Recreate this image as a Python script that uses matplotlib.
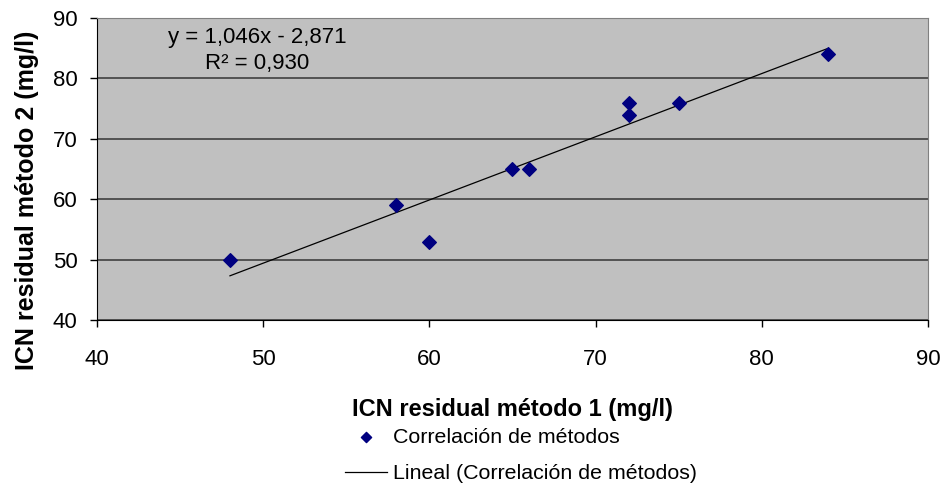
import numpy as np
import matplotlib.pyplot as plt

plt.rcParams['font.family'] = ['Liberation Sans', 'DejaVu Sans']

metodo1 = [48, 58, 60, 65, 66, 72, 72, 75, 84]
metodo2 = [50, 59, 53, 65, 65, 76, 74, 76, 84]
pendiente = 1.046
intercepto = -2.871
ecuacion = "y = 1,046x - 2,871"
r2_texto = "R² = 0,930"

fig = plt.figure(figsize=(9.42, 4.88), dpi=100)
ax = fig.add_axes([0.103, 0.344, 0.882, 0.619])
ax.set_facecolor('#c0c0c0')

ax.scatter(metodo1, metodo2, marker='D', s=48, color='#000080', zorder=3,
           label='Correlación de métodos')
xs = np.array([min(metodo1), max(metodo1)])
ax.plot(xs, pendiente * xs + intercepto, color='black', lw=0.9, zorder=2,
        label='Lineal (Correlación de métodos)')

ax.set_xlim(40, 90)
ax.set_ylim(40, 90)
ax.set_xticks(range(40, 91, 10))
ax.set_yticks(range(40, 91, 10))
ax.yaxis.grid(True, color='#404040', lw=1.2)
ax.set_axisbelow(True)
ax.tick_params(labelsize=16, direction='out', length=5, width=1)
ax.tick_params(axis='x', pad=16)
ax.tick_params(axis='y', pad=9)
for s in ['top', 'right']:
    ax.spines[s].set_color('#808080')
for s in ['left', 'bottom']:
    ax.spines[s].set_color('black')

ax.set_xlabel('ICN residual método 1 (mg/l)', fontsize=17, fontweight='bold', labelpad=20)
ax.set_ylabel('ICN residual método 2 (mg/l)', fontsize=18, fontweight='bold')
ax.yaxis.set_label_coords(-0.070, 0.397)

ax.text(0.1925, 0.934, ecuacion, transform=ax.transAxes, fontsize=16,
        ha='center', va='center')
ax.text(0.1925, 0.851, r2_texto, transform=ax.transAxes, fontsize=16,
        ha='center', va='center')

fig.legend(loc='upper left', bbox_to_anchor=(334 / 942, 1 - 417 / 488), frameon=False,
           fontsize=15.4, labelspacing=0.82, handlelength=2.0, handletextpad=0.25,
           markerscale=0.75, borderpad=0)

fig.savefig('out.png', dpi=100)
